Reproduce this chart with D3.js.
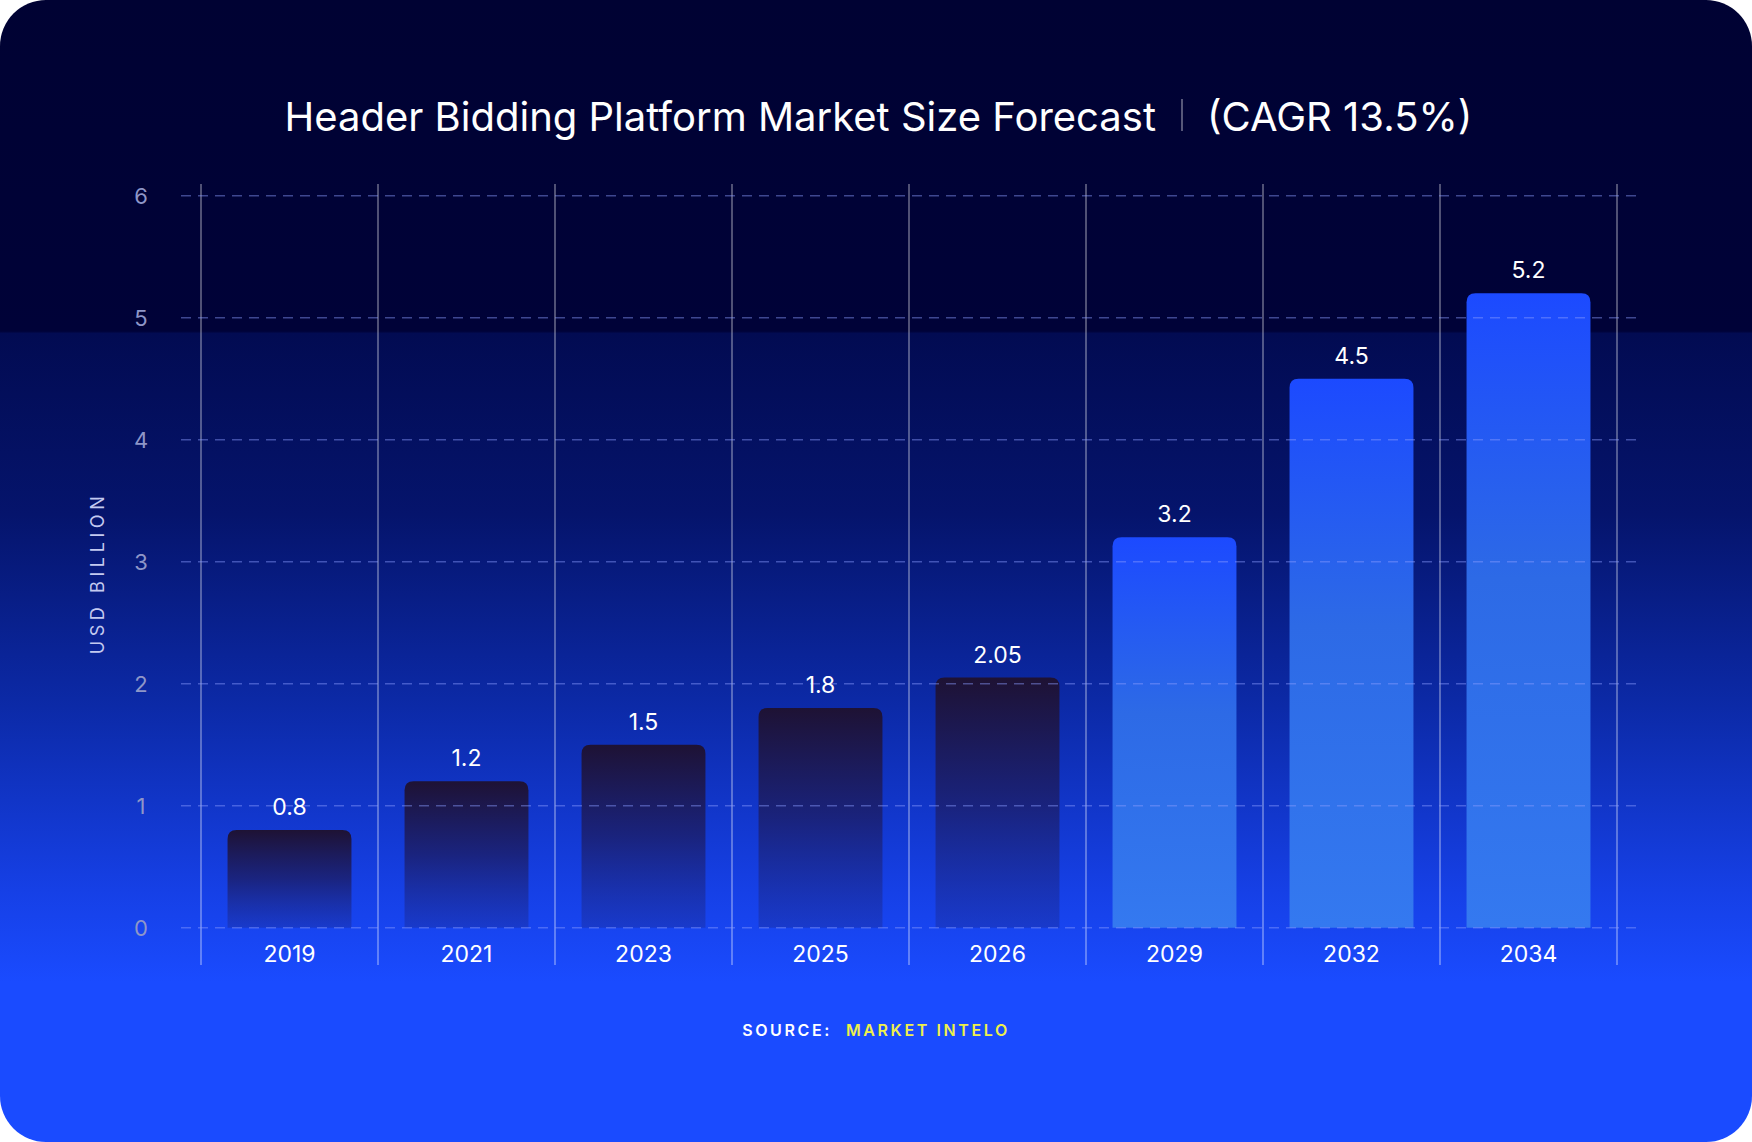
<!DOCTYPE html>
<meta charset="utf-8">
<title>Header Bidding Platform Market Size Forecast</title>
<style>
  html, body { margin: 0; padding: 0; background: #ffffff; }
  svg { display: block; font-family: Inter, "Noto Sans", sans-serif; }
  .grid line { stroke: #8a9cff; stroke-opacity: 0.45; stroke-width: 1.5; stroke-dasharray: 10, 7; }
  .vline { stroke: #ffffff; stroke-opacity: 0.42; stroke-width: 1.5; }
  .ytick { fill: #8e96c8; font-size: 22px; }
  .xlab, .vlab { fill: #ffffff; font-size: 23px; }
</style>
<body>
<script src="https://d3js.org/d3.v7.min.js"></script>
<script>
  var years = ['2019', '2021', '2023', '2025', '2026', '2029', '2032', '2034'];
  var values = [0.8, 1.2, 1.5, 1.8, 2.05, 3.2, 4.5, 5.2];
  var labels = ['0.8', '1.2', '1.5', '1.8', '2.05', '3.2', '4.5', '5.2'];
  var forecast = [false, false, false, false, false, true, true, true];
  var yTicks = [0, 1, 2, 3, 4, 5, 6];

  var W = 1752, H = 1142;

  var svg = d3.select('body').append('svg')
      .attr('width', W)
      .attr('height', H);

  var defs = svg.append('defs');

  var bg = defs.append('linearGradient').attr('id', 'bg')
      .attr('x1', 0).attr('y1', 0).attr('x2', 0).attr('y2', 1);
  [[0, '#000233'], [0.29, '#000238'], [0.292, '#020b52'], [0.45, '#05146c'],
   [0.62, '#0c2aa8'], [0.78, '#1640e6'], [0.86, '#1a4bff'], [1, '#1a4bff']]
    .forEach(function(s) { bg.append('stop').attr('offset', s[0]).attr('stop-color', s[1]); });

  var dark = defs.append('linearGradient').attr('id', 'dark')
      .attr('x1', 0).attr('y1', 0).attr('x2', 0).attr('y2', 1);
  dark.append('stop').attr('offset', 0).attr('stop-color', '#1e1234').attr('stop-opacity', 1);
  dark.append('stop').attr('offset', 0.5).attr('stop-color', '#1b1f6e').attr('stop-opacity', 0.85);
  dark.append('stop').attr('offset', 1).attr('stop-color', '#1a2fa6').attr('stop-opacity', 0.5);

  var light = defs.append('linearGradient').attr('id', 'light')
      .attr('x1', 0).attr('y1', 0).attr('x2', 0).attr('y2', 1);
  light.append('stop').attr('offset', 0).attr('stop-color', '#1c4aff');
  light.append('stop').attr('offset', 0.45).attr('stop-color', '#2d6ae6');
  light.append('stop').attr('offset', 1).attr('stop-color', '#3479f0');

  // card
  svg.append('rect')
      .attr('width', W).attr('height', H)
      .attr('rx', 46).attr('ry', 46)
      .attr('fill', 'url(#bg)');

  var x = d3.scaleBand()
      .domain(years)
      .range([201, 1617])
      .paddingInner(0.3)
      .paddingOuter(0.15);

  var y = d3.scaleLinear()
      .domain([0, 6])
      .range([927.7, 195.7]);

  var step = x.step();

  // vertical separators
  var bounds = years.map(function(d) { return x(d) - step * 0.15; });
  bounds.push(x(years[years.length - 1]) + x.bandwidth() + step * 0.15);
  svg.append('g').selectAll('line')
      .data(bounds)
      .join('line')
      .attr('class', 'vline')
      .attr('x1', function(d) { return d; })
      .attr('x2', function(d) { return d; })
      .attr('y1', 184)
      .attr('y2', 965);

  // bars, rounded only on top
  var r = 9;
  function barPath(i) {
    var x0 = x(years[i]), w = x.bandwidth(), y0 = y(values[i]), yb = y(0);
    return 'M' + x0 + ',' + yb +
      'V' + (y0 + r) +
      'Q' + x0 + ',' + y0 + ' ' + (x0 + r) + ',' + y0 +
      'H' + (x0 + w - r) +
      'Q' + (x0 + w) + ',' + y0 + ' ' + (x0 + w) + ',' + (y0 + r) +
      'V' + yb + 'Z';
  }
  svg.append('g').selectAll('path')
      .data(d3.range(years.length))
      .join('path')
      .attr('d', barPath)
      .attr('fill', function(i) { return forecast[i] ? 'url(#light)' : 'url(#dark)'; });

  // dashed grid on top
  svg.append('g').attr('class', 'grid').selectAll('line')
      .data(yTicks)
      .join('line')
      .attr('x1', 181).attr('x2', 1639)
      .attr('y1', function(d) { return y(d); })
      .attr('y2', function(d) { return y(d); });

  // y ticks
  svg.append('g').selectAll('text')
      .data(yTicks)
      .join('text')
      .attr('class', 'ytick')
      .attr('x', 141)
      .attr('y', function(d) { return y(d); })
      .attr('dy', '0.36em')
      .attr('text-anchor', 'middle')
      .text(function(d) { return d; });

  svg.append('text')
      .attr('transform', 'translate(104,573) rotate(-90)')
      .attr('text-anchor', 'middle')
      .attr('fill', '#c4caf0')
      .style('font-size', '18px')
      .style('letter-spacing', '4.6px')
      .text('USD BILLION');

  // value labels
  svg.append('g').selectAll('text')
      .data(d3.range(years.length))
      .join('text')
      .attr('class', 'vlab')
      .attr('x', function(i) { return x(years[i]) + x.bandwidth() / 2; })
      .attr('y', function(i) { return y(values[i]) - 15; })
      .attr('text-anchor', 'middle')
      .text(function(i) { return labels[i]; });

  // x labels
  svg.append('g').selectAll('text')
      .data(years)
      .join('text')
      .attr('class', 'xlab')
      .attr('x', function(d) { return x(d) + x.bandwidth() / 2; })
      .attr('y', 962)
      .attr('text-anchor', 'middle')
      .text(function(d) { return d; });

  // title
  svg.append('text')
      .attr('x', 1156).attr('y', 131)
      .attr('text-anchor', 'end')
      .attr('fill', '#ffffff')
      .style('font-size', '40px')
      .text('Header Bidding Platform Market Size Forecast');
  svg.append('line')
      .attr('x1', 1182).attr('x2', 1182)
      .attr('y1', 99).attr('y2', 131)
      .attr('stroke', '#ffffff').attr('stroke-opacity', 0.45).attr('stroke-width', 1.5);
  svg.append('text')
      .attr('x', 1207).attr('y', 131)
      .attr('fill', '#ffffff')
      .style('font-size', '40px')
      .text('(CAGR 13.5%)');

  // source
  var src = svg.append('text')
      .attr('x', 876).attr('y', 1036)
      .attr('text-anchor', 'middle')
      .style('font-size', '16px')
      .style('font-weight', 600)
      .style('letter-spacing', '2.6px');
  src.append('tspan').attr('fill', '#ffffff').text('SOURCE:');
  src.append('tspan').attr('fill', '#eef04a').attr('dx', 14).text('MARKET INTELO');
</script>
</body>
